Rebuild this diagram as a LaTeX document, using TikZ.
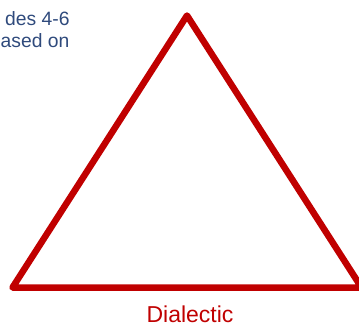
\documentclass[tikz,border=0pt]{standalone}
\usepackage{fontspec}
\setmainfont{Liberation Sans}
\definecolor{dialred}{HTML}{C00000}
\definecolor{noteblue}{HTML}{2F4A7C}
\begin{document}
\begin{tikzpicture}[x=1pt,y=-1pt]
  \clip (0,0) rectangle (359,327);
  \coordinate (top) at (187,15.5);
  \coordinate (left) at (12.5,287.5);
  \coordinate (right) at (361.5,287.5);
  \draw[dialred, line width=6.5pt, line join=round] (top)--(left)--(right)--cycle;
  \node[anchor=base west, inner sep=0, text=noteblue, font=\fontsize{19.3}{23}\selectfont] (note1) at (5,25) {des 4-6};
  \node[anchor=base west, inner sep=0, text=noteblue, font=\fontsize{19.3}{23}\selectfont] (note2) at (0.5,47.5) {ased on};
  \node[anchor=base, inner sep=0, text=dialred, font=\fontsize{23}{27}\selectfont] (label) at (190,322) {Dialectic};
\end{tikzpicture}
\end{document}
